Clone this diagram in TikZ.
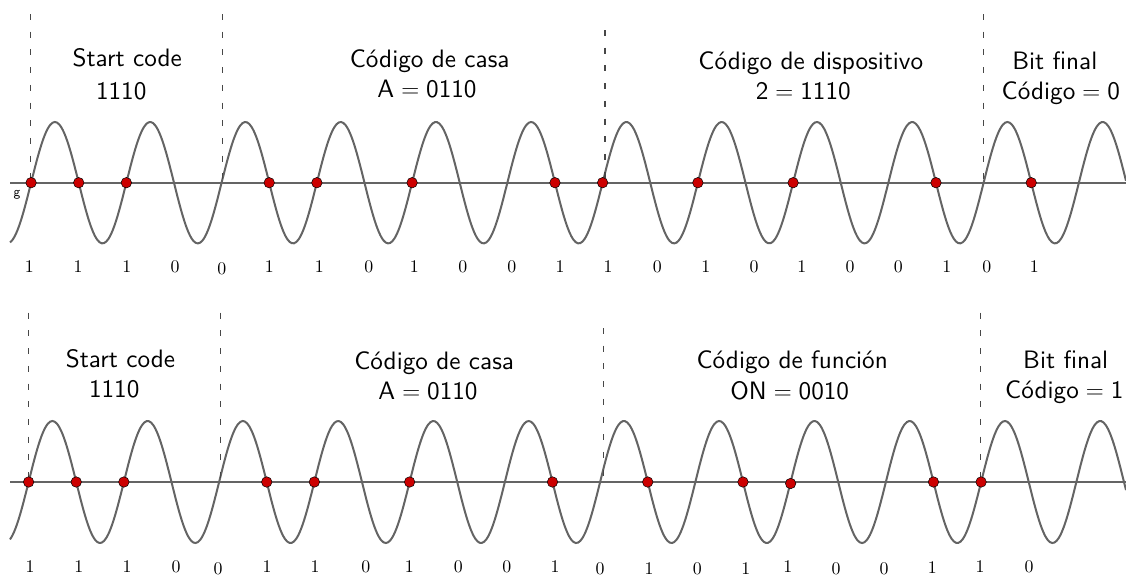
\documentclass[tikz,border=0pt]{standalone}
\usepackage{fontspec}
\newfontfamily\lsans{lmsans10-regular.otf}
\newfontfamily\lroman{lmroman10-regular.otf}
\definecolor{dotred}{RGB}{204,0,0}
\definecolor{wavegray}{RGB}{100,100,100}
\begin{document}
\begin{tikzpicture}[x=1pt,y=-1pt,
  wave/.style={line width=2pt, color=wavegray},
  axisline/.style={line width=1.8pt, color=wavegray},
  divider/.style={line width=1.2pt, color=black!72, dash pattern=on 6pt off 11.7pt},
  dot/.style={circle, fill=dotred, draw=black, line width=0.5pt, inner sep=0pt, minimum size=10.5pt},
  lbl/.style={anchor=base, inner sep=0pt, font=\lsans\fontsize{25.2}{30}\selectfont},
  bit/.style={anchor=base, inner sep=0pt, font=\lroman\fontsize{17.8}{20}\selectfont},
  tiny/.style={anchor=center, inner sep=0pt, font=\lsans\fontsize{13.5}{15}\selectfont}
]
\useasboundingbox (0,0) rectangle (1126,576);

% ---------------- top panel ----------------
\coordinate (tL) at (10,182.7);
\coordinate (tR) at (1126,182.7);
\draw[axisline] (tL) -- (tR);
\draw[wave] plot[domain=10:1126, samples=500, smooth] (\x, {182.7-60.7*sin(((\x-31.1)/95.25)*360)});

\coordinate (td1a) at (30.3,14);  \coordinate (td1b) at (30.3,182.7);
\coordinate (td2a) at (222.7,14); \coordinate (td2b) at (222.7,182.7);
\coordinate (td3a) at (605,30);   \coordinate (td3b) at (605,182.7);
\coordinate (td4a) at (983.5,14); \coordinate (td4b) at (983.5,182.7);
\draw[divider] (td1a) -- (td1b);
\draw[divider] (td2a) -- (td2b);
\draw[divider] (td3a) -- (td3b);
\draw[divider] (td4a) -- (td4b);

\foreach \k in {0,1,2,5,6,8,11,12,14,16,19,21}
  \node[dot] (tdot\k) at ({31.1+\k*47.625},182.7) {};

\node[tiny] (tg) at (17,194.5) {g};

\node[lbl] (t1a) at (127.2,66.7) {Start code};
\node[lbl] (t1b) at (121.2,99.3) {1110};
\node[lbl] (t2a) at (429.7,67) {Código de casa};
\node[lbl] (t2b) at (427,97.5) {A\;$=$\;0110};
\node[lbl] (t3a) at (810.8,69.5) {Código de dispositivo};
\node[lbl] (t3b) at (803.3,99.5) {2\;$=$\;1110};
\node[lbl] (t4a) at (1054.8,69.5) {Bit final};
\node[lbl] (t4b) at (1060.8,99.5) {Código\;$=$\;0};

\foreach \x/\y/\b [count=\i] in {29.3/272.5/1, 78/272.5/1, 126.7/272.5/1, 175/272.5/0, 221.7/274.8/0,
  269.3/272.5/1, 319.3/272.5/1, 368.7/272.5/0, 414.3/272.5/1, 462.7/272.5/0, 511.7/272.5/0,
  560/272.5/1, 608/272.5/1, 657.3/272.5/0, 705.7/272.5/1, 754/272.5/0, 801.7/272.5/1,
  850/272.5/0, 898.3/272.5/0, 946.7/272.5/1, 986.7/272.5/0, 1034.3/272.5/1}
  \node[bit] (tb\i) at (\x,\y) {\b};

% ---------------- bottom panel ----------------
\coordinate (bL) at (10,482);
\coordinate (bR) at (1126,482);
\draw[axisline] (bL) -- (bR);
\draw[wave] plot[domain=10:1126, samples=500, smooth] (\x, {482-61*sin(((\x-28.6)/95.25)*360)});

\coordinate (bd1a) at (28.7,312.7);  \coordinate (bd1b) at (28.7,482);
\coordinate (bd2a) at (220.7,312.7); \coordinate (bd2b) at (220.7,482);
\coordinate (bd3a) at (603.3,328);   \coordinate (bd3b) at (603.3,482);
\coordinate (bd4a) at (980.3,312.7); \coordinate (bd4b) at (980.3,482);
\draw[divider] (bd1a) -- (bd1b);
\draw[divider] (bd2a) -- (bd2b);
\draw[divider] (bd3a) -- (bd3b);
\draw[divider] (bd4a) -- (bd4b);

\foreach \k in {0,1,2,5,6,8,11,13,15,19,20}
  \node[dot] (bdot\k) at ({28.6+\k*47.625},482) {};
\node[dot] (bdot16) at ({28.6+16*47.625},483.5) {};

\node[lbl] (b1a) at (120.5,367.3) {Start code};
\node[lbl] (b1b) at (114.2,397) {1110};
\node[lbl] (b2a) at (434.2,369) {Código de casa};
\node[lbl] (b2b) at (428,399) {A\;$=$\;0110};
\node[lbl] (b3a) at (792.2,368.5) {Código de función};
\node[lbl] (b3b) at (789.7,399) {ON\;$=$\;0010};
\node[lbl] (b4a) at (1065.7,368.5) {Bit final};
\node[lbl] (b4b) at (1064.3,398.5) {Código\;$=$\;1};

\foreach \x/\y/\b [count=\i] in {30/572/1, 78.7/572/1, 127/572/1, 176/572/0, 218/574.3/0,
  267/572/1, 315/572.5/1, 365.7/572.5/0, 409.3/572.5/1, 458.3/572.5/0, 506.7/572.5/0,
  555/572.5/1, 600/574.3/0, 649/574/1, 697.3/574/0, 745.7/574/1, 787.7/572/1,
  836/574/0, 884/574/0, 932.3/573.5/1, 980/572/1, 1029/572/0}
  \node[bit] (bb\i) at (\x,\y) {\b};
\end{tikzpicture}
\end{document}
